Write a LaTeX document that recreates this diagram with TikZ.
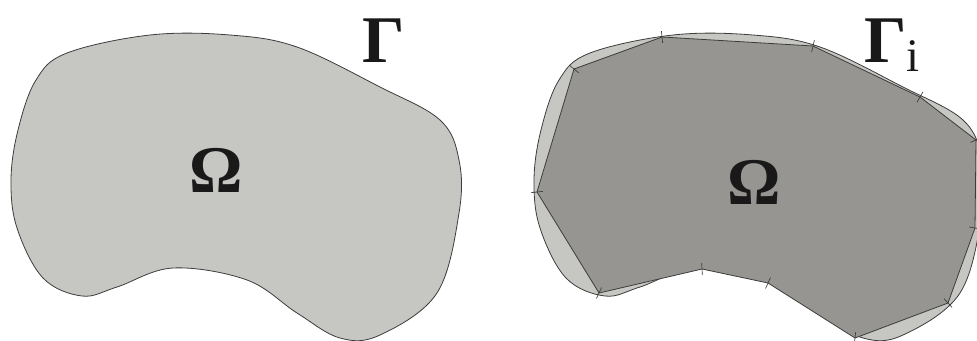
\documentclass[tikz,border=0pt]{standalone}
\usepackage{fontspec}
\setmainfont{Liberation Serif}
\usetikzlibrary{calc}
\definecolor{lightfill}{RGB}{198,198,194}
\definecolor{darkfill}{RGB}{151,149,146}
\definecolor{edgecol}{RGB}{60,60,60}
\tikzset{
  regionfill/.style={draw=edgecol, line width=0.6pt, fill=lightfill},
  polyfill/.style={draw=edgecol, line width=0.6pt, fill=darkfill},
  vtick/.style={draw=edgecol, line width=0.5pt},
  bigsym/.style={inner sep=0pt, font=\fontsize{50}{50}\selectfont\bfseries, text=black!90}
}
\begin{document}
\begin{tikzpicture}[x=0.75pt,y=-0.75pt]
\useasboundingbox (0,0) rectangle (977,340);
\clip (0,0) rectangle (977,340);
% smooth domains (left exact, right shifted)
\foreach \dx in {0,523}{
  \path[regionfill, shift={(\dx,0)}] plot[smooth cycle, tension=0.6] coordinates {
    (11,180) (18,130) (36,80) (67,53) (150,35) (230,35) (297,47) (380,87) (440,120)
    (459,160) (459,213) (437,293) (380,335) (340,338) (297,313) (247,280)
    (173,268) (117,287) (82,296) (43,278) (17,228)};
}
% polygon vertices
\coordinate (v1) at (662,37);
\coordinate (v2) at (813,46);
\coordinate (v3) at (920,97);
\coordinate (v4) at (976,140);
\coordinate (v5) at (975,228);
\coordinate (v6) at (948,303);
\coordinate (v7) at (855,338);
\coordinate (v8) at (768,283);
\coordinate (v9) at (702,269);
\coordinate (v10) at (599,293);
\coordinate (v11) at (537,192);
\coordinate (v12) at (574,69);
\path[polyfill] (v1) -- (v2) -- (v3) -- (v4) -- (v5) -- (v6) -- (v7) -- (v8)
  -- (v9) -- (v10) -- (v11) -- (v12) -- cycle;
% ticks normal to the boundary at each vertex
\foreach \p/\v/\n in {v12/v1/v2, v1/v2/v3, v2/v3/v4, v3/v4/v5, v4/v5/v6,
  v5/v6/v7, v6/v7/v8, v7/v8/v9, v8/v9/v10, v9/v10/v11, v10/v11/v12, v11/v12/v1}{
  \draw[vtick] ($(\v)+($(\p)!4.5pt!90:(\n)$)-(\p)$) -- ($(\v)-($(\p)!4.5pt!90:(\n)$)+(\p)$);
}
% labels
\node[bigsym] (omegaL) at (216,170) {Ω};
\node[bigsym] (omegaR) at (754,182) {Ω};
\node[bigsym, anchor=base west] (gammaL) at (362,62) {Γ};
\node[bigsym, anchor=base west] (gammaR) at (864,62) {Γ\raisebox{-6.75pt}{\fontsize{35}{35}\selectfont\mdseries i}};
\end{tikzpicture}
\end{document}
